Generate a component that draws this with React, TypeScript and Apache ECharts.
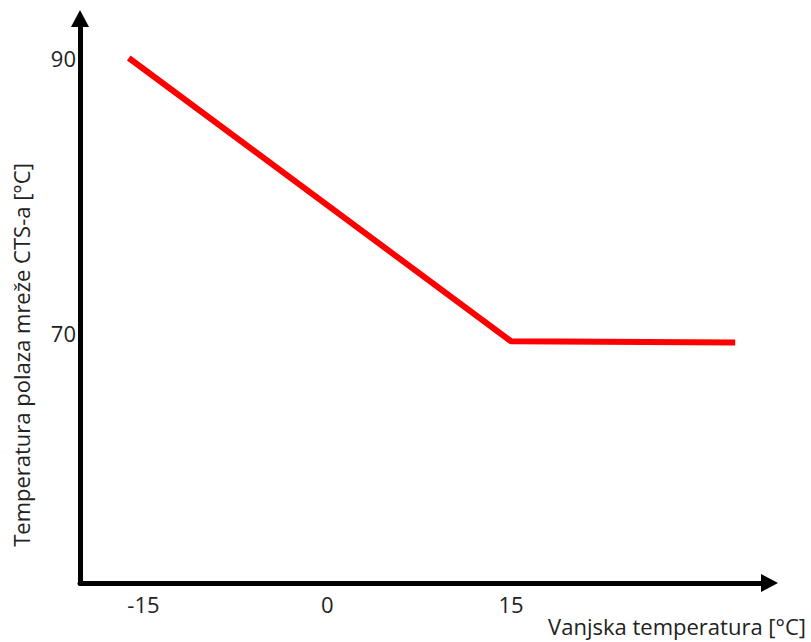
import React, { useEffect, useRef } from "react";
import * as echarts from "echarts";

const xTickValues = [-15, 0, 15];
const yTickValues = [70, 90];
const curveX = [-16.2, 15, 33.3];
const curveY = [90, 69.4, 69.3];
const xTitle = "Vanjska temperatura [°C]";
const yTitle = "Temperatura polaza mreže CTS-a [°C]";

const FONT = "'Open Sans', sans-serif";

export default function App() {
  const ref = useRef<HTMLDivElement>(null);
  useEffect(() => {
    if (!ref.current) return;
    const chart = echarts.init(ref.current, undefined, { renderer: "svg" });
    const data = curveX.map((x, i) => [x, curveY[i]]);
    chart.setOption({
      animation: false,
      backgroundColor: "#ffffff",
      grid: { left: 80, right: 41.5, top: 18.5, bottom: 59, containLabel: false },
      xAxis: {
        type: "value",
        min: -20.18,
        max: 36.1,
        splitLine: { show: false },
        axisTick: { show: false },
        axisLine: {
          show: true,
          onZero: false,
          symbol: ["none", "triangle"],
          symbolSize: [18, 17],
          lineStyle: { color: "#000", width: 5 },
        },
        axisLabel: {
          customValues: xTickValues,
          color: "#222",
          fontFamily: FONT,
          fontSize: 22,
          margin: 10,
        },
      },
      yAxis: {
        type: "value",
        min: 51.82,
        max: 92.87,
        splitLine: { show: false },
        axisTick: { show: false },
        axisLine: {
          show: true,
          onZero: false,
          symbol: ["none", "triangle"],
          symbolSize: [18, 17],
          lineStyle: { color: "#000", width: 5 },
        },
        axisLabel: {
          customValues: yTickValues,
          color: "#222",
          fontFamily: FONT,
          fontSize: 22,
          margin: 4,
        },
      },
      graphic: [
        {
          type: "text",
          x: 806,
          y: 626,
          style: {
            text: xTitle,
            align: "right",
            verticalAlign: "middle",
            font: `22px ${FONT}`,
            fill: "#222",
          },
        },
        {
          type: "text",
          x: 21,
          y: 355,
          rotation: Math.PI / 2,
          style: {
            text: yTitle,
            align: "center",
            verticalAlign: "middle",
            font: `22px ${FONT}`,
            fill: "#222",
          },
        },
      ],
      series: [
        {
          type: "line",
          data,
          symbol: "none",
          lineStyle: { color: "#ff0000", width: 6 },
        },
      ],
    });
    return () => chart.dispose();
  }, []);
  return (
    <div
      ref={ref}
      style={{ position: "absolute", left: 0, top: 0, width: 811, height: 642 }}
    />
  );
}
